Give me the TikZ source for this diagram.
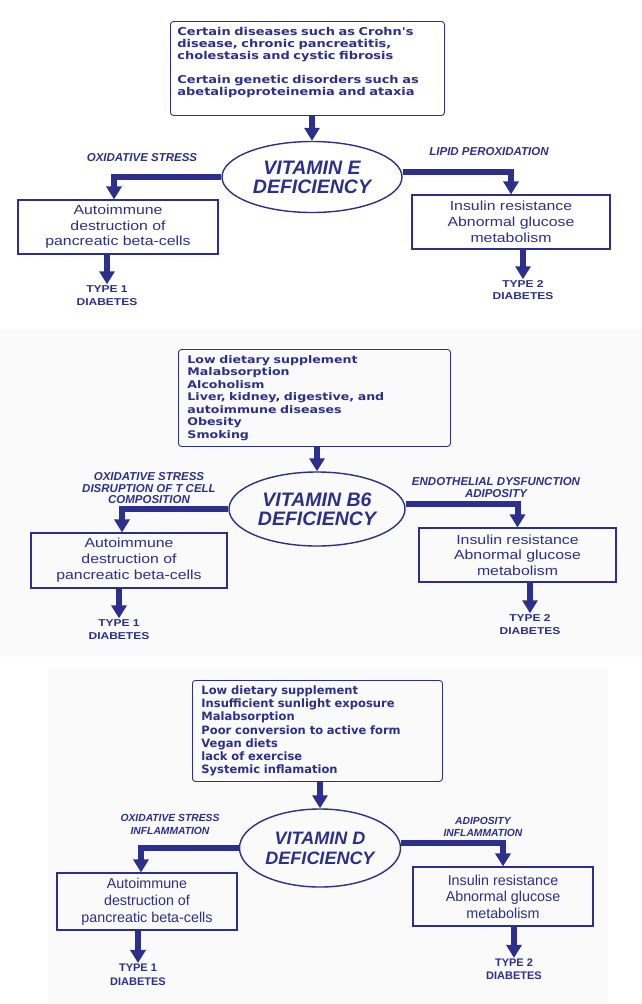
\documentclass[tikz,border=0pt]{standalone}
\usepackage{fontspec}
\usetikzlibrary{shapes.geometric,arrows.meta,calc}
\newfontfamily\wideari[FakeStretch=1.2]{Liberation Sans}
\newfontfamily\wideverd[FakeStretch=1.2]{DejaVu Sans}
\newfontfamily\plainari{Liberation Sans}
\newfontfamily\plainverd{DejaVu Sans}
\newcommand{\setfs}[2]{\fontsize{#1}{#2}\selectfont}
\definecolor{navy}{RGB}{44,47,140}
\definecolor{panelgray}{RGB}{250,250,250}

\begin{document}
\begin{tikzpicture}[x=1pt,y=-1pt,
    causebox/.style={draw=navy,line width=0.9pt,rounded corners=3pt,align=left,inner xsep=7pt,inner ysep=0pt,text=navy,anchor=north west},
    defell/.style={draw=navy,line width=1.4pt,ellipse,inner sep=0pt,align=center,text=navy},
    outbox/.style={draw=navy,line width=1.1pt,inner sep=0pt,align=center,text=navy},
    sidelab/.style={inner sep=1pt,align=center,text=navy},
    typelab/.style={inner sep=1pt,align=center,text=navy},
    fatarrow/.style={draw=navy,line width=6pt,-{Triangle[width=15pt,length=13pt]}}]
\useasboundingbox (0,0) rectangle (642,1004);
\fill[panelgray] (0,329) rectangle (642,657);
\fill[panelgray] (48,668) rectangle (608,1004);

% vitamin E
\node[causebox,text width=260pt,minimum height=94pt,font=\wideverd\bfseries\setfs{10.8}{12}] (causeE) at (170,21)
    {Certain diseases such as Crohn's\\disease, chronic pancreatitis,\\cholestasis and cystic fibrosis\\[12pt]Certain genetic disorders such as\\abetalipoproteinemia and ataxia\par\vspace*{12pt}};
\node[defell,minimum width=180pt,minimum height=71pt,font=\plainari\bfseries\itshape\setfs{19.5}{19}] (defE) at (312,177) {VITAMIN E\\DEFICIENCY};
\node[sidelab,font=\plainari\bfseries\itshape\setfs{11.5}{11.5}] (labOE) at (142,158) {OXIDATIVE STRESS};
\node[sidelab,font=\plainari\bfseries\itshape\setfs{11.5}{11.5}] (labLE) at (489,152) {LIPID PEROXIDATION};
\node[outbox,minimum width=200pt,minimum height=54pt,font=\wideari\setfs{13.2}{15.5}] (autoE) at (118,227) {Autoimmune\\destruction of\\pancreatic beta-cells};
\node[outbox,minimum width=198pt,minimum height=54pt,font=\wideari\setfs{13.2}{16}] (insE) at (511,222) {Insulin resistance\\Abnormal glucose\\metabolism};
\node[typelab,font=\wideari\bfseries\setfs{10}{13}] (typeoneE) at (107,295.5) {TYPE 1\\DIABETES};
\node[typelab,font=\wideari\bfseries\setfs{10}{12}] (typetwoE) at (523,290) {TYPE 2\\DIABETES};

% vitamin B6
\node[causebox,inner xsep=9pt,text width=254pt,minimum height=97pt,font=\wideverd\bfseries\setfs{10.5}{12.5}] (causeB) at (178,349)
    {Low dietary supplement\\Malabsorption\\Alcoholism\\Liver, kidney, digestive, and\\autoimmune diseases\\Obesity\\Smoking};
\node[defell,minimum width=176pt,minimum height=74pt,font=\plainari\bfseries\itshape\setfs{19.5}{19}] (defB) at (317,509) {VITAMIN B6\\DEFICIENCY};
\node[sidelab,font=\plainari\bfseries\itshape\setfs{11.5}{11.5}] (labOB) at (149,488.5) {OXIDATIVE STRESS\\DISRUPTION OF T CELL\\COMPOSITION};
\node[sidelab,font=\plainari\bfseries\itshape\setfs{11.5}{11.5}] (labLB) at (496,487.5) {ENDOTHELIAL DYSFUNCTION\\ADIPOSITY};
\node[outbox,minimum width=196pt,minimum height=55pt,font=\wideari\setfs{13.2}{16}] (autoB) at (129,560.5) {Autoimmune\\destruction of\\pancreatic beta-cells};
\node[outbox,minimum width=197pt,minimum height=54pt,font=\wideari\setfs{13.2}{15.5}] (insB) at (517.5,555) {Insulin resistance\\Abnormal glucose\\metabolism};
\node[typelab,font=\wideari\bfseries\setfs{10}{13}] (typeoneB) at (119,629.5) {TYPE 1\\DIABETES};
\node[typelab,font=\wideari\bfseries\setfs{10}{13}] (typetwoB) at (530,624.5) {TYPE 2\\DIABETES};

% vitamin D
\node[causebox,inner xsep=9pt,text width=232pt,minimum height=101pt,font=\plainverd\bfseries\setfs{11.5}{13.1}] (causeD) at (192,680)
    {Low dietary supplement\\Insufficient sunlight exposure\\Malabsorption\\Poor conversion to active form\\Vegan diets\\lack of exercise\\Systemic inflamation};
\node[defell,minimum width=161pt,minimum height=78pt,font=\plainari\bfseries\itshape\setfs{18}{20}] (defD) at (320,848) {VITAMIN D\\DEFICIENCY};
\node[sidelab,font=\plainari\bfseries\itshape\setfs{10.3}{12.5}] (labOD) at (170,824.5) {OXIDATIVE STRESS\\INFLAMMATION};
\node[sidelab,font=\plainari\bfseries\itshape\setfs{10.3}{12}] (labLD) at (483,827) {ADIPOSITY\\INFLAMMATION};
\node[outbox,minimum width=180pt,minimum height=57pt,font=\plainari\setfs{14.3}{17}] (autoD) at (147,901.5) {Autoimmune\\destruction of\\pancreatic beta-cells};
\node[outbox,minimum width=180pt,minimum height=59pt,font=\plainari\setfs{14.3}{16.5}] (insD) at (503,896.5) {Insulin resistance\\Abnormal glucose\\metabolism};
\node[typelab,font=\plainari\bfseries\setfs{11}{14}] (typeoneD) at (138,975) {TYPE 1\\DIABETES};
\node[typelab,font=\plainari\bfseries\setfs{11}{13}] (typetwoD) at (514,969.5) {TYPE 2\\DIABETES};

% connectors
\foreach \p in {E,B,D}{
    \draw[fatarrow] (cause\p.south -| def\p.north) -- (def\p.north);
    \draw[fatarrow] (auto\p.south -| typeone\p.north) -- (typeone\p.north);
    \draw[fatarrow] (ins\p.south -| typetwo\p.north) -- (typetwo\p.north);
    \draw[fatarrow] ([yshift=5pt]def\p.east) -| (ins\p.north);
}
\foreach \p/\s in {E/-4,B/-7,D/-6}
    \draw[fatarrow] (def\p.west) -| ([xshift=\s pt]auto\p.north);
\end{tikzpicture}
\end{document}
